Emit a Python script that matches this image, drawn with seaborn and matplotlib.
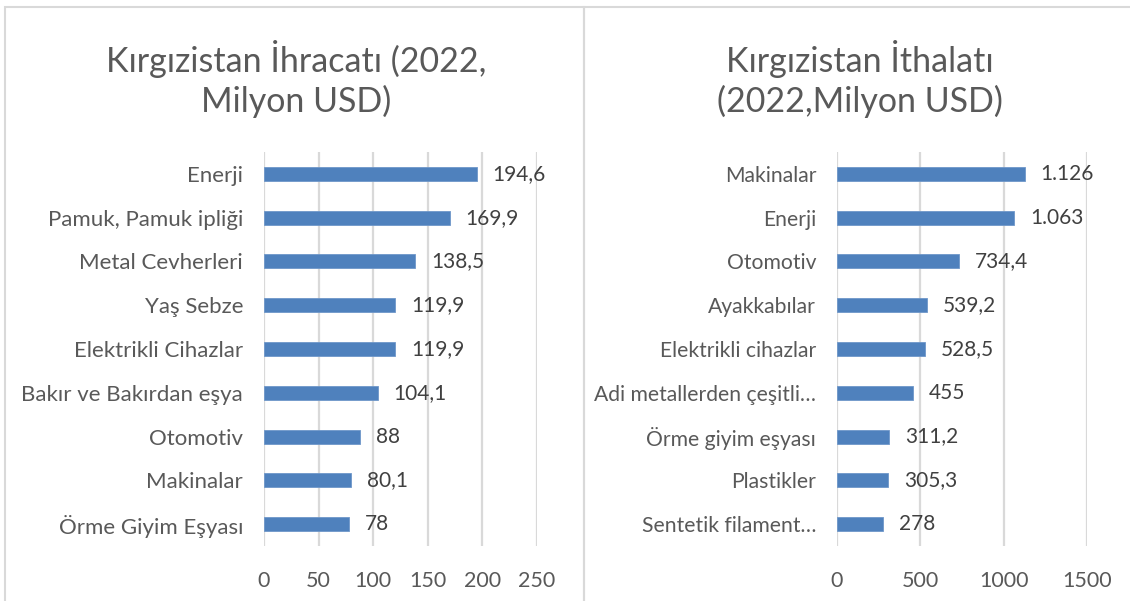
import matplotlib
matplotlib.use("Agg")
import matplotlib.pyplot as plt
import seaborn as sns
import pandas as pd
from matplotlib.patches import Rectangle

# ---- data ----
export_categories = ["Enerji", "Pamuk, Pamuk ipliği", "Metal Cevherleri", "Yaş Sebze",
                     "Elektrikli Cihazlar", "Bakır ve Bakırdan eşya", "Otomotiv",
                     "Makinalar", "Örme Giyim Eşyası"]
export_values = [194.6, 169.9, 138.5, 119.9, 119.9, 104.1, 88, 80.1, 78]

import_categories = ["Makinalar", "Enerji", "Otomotiv", "Ayakkabılar", "Elektrikli cihazlar",
                     "Adi metallerden çeşitli…", "Örme giyim eşyası", "Plastikler",
                     "Sentetik filament…"]
import_values = [1126, 1063, 734.4, 539.2, 528.5, 455, 311.2, 305.3, 278]

export_ticks = [0, 50, 100, 150, 200, 250]
import_ticks = [0, 500, 1000, 1500]

export_title = "Kırgızistan İhracatı (2022,\nMilyon USD)"
import_title = "Kırgızistan İthalatı\n(2022,Milyon USD)"

BAR = "#4F81BD"
GRID = "#D9D9D9"
TXT = "#595959"
LBL = "#404040"

sns.set_theme(style="white")
plt.rcParams["font.family"] = ["Lato", "DejaVu Sans"]

W, H = 1130, 601
fig = plt.figure(figsize=(W / 100, H / 100), dpi=100)


def fmt(v):
    if float(v).is_integer():
        return f"{int(v):,}".replace(",", ".")
    return f"{v:.1f}".replace(".", ",")


def panel(rect, cats, vals, ticks, ylsize):
    ax = fig.add_axes(rect)
    df = pd.DataFrame({"cat": cats, "val": vals})
    sns.barplot(data=df, x="val", y="cat", orient="h", ax=ax, color=BAR,
                width=0.32, saturation=1, edgecolor="#6F97C9", linewidth=0.6)
    ax.set_xlim(ticks[0], ticks[-1])
    ax.set_xticks(ticks)
    ax.set_xlabel("")
    ax.set_ylabel("")
    ax.grid(axis="x", color=GRID, linewidth=1.6)
    ax.set_axisbelow(True)
    for s in ax.spines.values():
        s.set_visible(False)
    ax.tick_params(axis="both", length=0, colors=TXT)
    ax.tick_params(axis="y", pad=15, labelsize=ylsize)
    ax.tick_params(axis="x", pad=18, labelsize=15.5)
    ax.bar_label(ax.containers[0], labels=[fmt(v) for v in vals], padding=11.5,
                 fontsize=15, color=LBL)
    return ax


def rect(x0, x1, y0, y1):
    return [x0 / W, (H - y1) / H, (x1 - x0) / W, (y1 - y0) / H]


panel(rect(264, 537, 152, 546), export_categories, export_values, export_ticks, 16)
panel(rect(837, 1087, 152, 546), import_categories, import_values, import_ticks, 15.2)

fig.text(296 / W, 1 - 79 / H, export_title, ha="center", va="center",
         fontsize=24.5, color=TXT, linespacing=1.25)
fig.text(860 / W, 1 - 79 / H, import_title, ha="center", va="center",
         fontsize=24.5, color=TXT, linespacing=1.25)

# panel frames
fig.add_artist(Rectangle((5 / W, -0.01), (584 - 5) / W, 1 - 7 / H + 0.01,
                         transform=fig.transFigure, fill=False, edgecolor=GRID, linewidth=1.5))
fig.add_artist(Rectangle((584 / W, -0.01), 0.5, 1 - 7 / H + 0.01,
                         transform=fig.transFigure, fill=False, edgecolor=GRID, linewidth=1.5))

fig.savefig("out.png", dpi=100, facecolor="white")
